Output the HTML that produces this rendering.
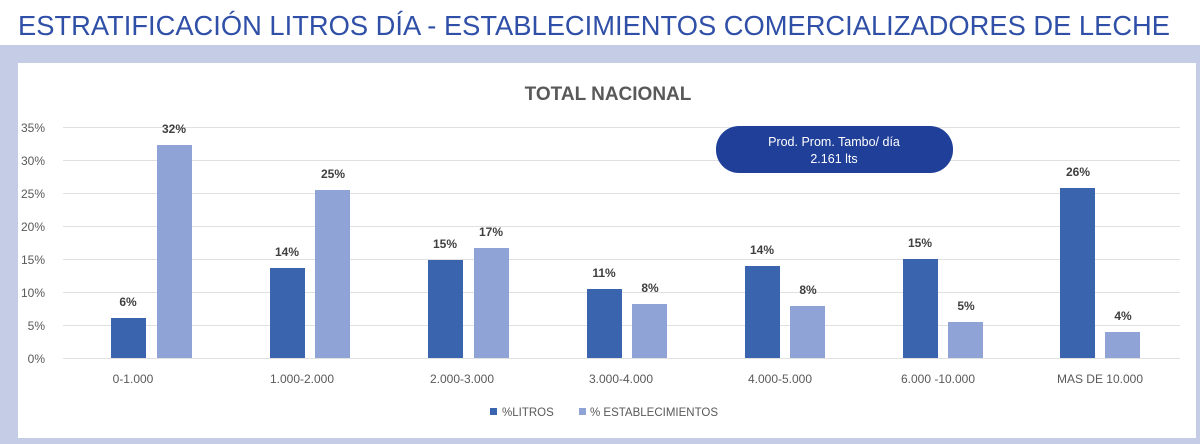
<!DOCTYPE html>
<html><head><meta charset="utf-8"><style>
body{margin:0;width:1200px;height:444px;overflow:hidden;background:#fff;}
svg{display:block}
</style></head><body>
<svg width="1200" height="444" xmlns="http://www.w3.org/2000/svg" font-family="Liberation Sans, sans-serif">
<rect x="0" y="0" width="1200" height="444" fill="#fff"/>
<text x="18" y="35" font-size="28" fill="#3050a8" textLength="1152" lengthAdjust="spacingAndGlyphs">ESTRATIFICACIÓN LITROS DÍA - ESTABLECIMIENTOS COMERCIALIZADORES DE LECHE</text>
<rect x="0" y="45" width="1200" height="399" fill="#c5cde6"/>
<rect x="18" y="63" width="1178" height="375" fill="#fff"/>
<text x="608" y="100" font-size="19" font-weight="bold" fill="#595959" text-anchor="middle">TOTAL NACIONAL</text>
<g stroke="#e0e0e0" stroke-width="1">
<line x1="63" x2="1180" y1="127.5" y2="127.5"/>
<line x1="63" x2="1180" y1="160.5" y2="160.5"/>
<line x1="63" x2="1180" y1="193.5" y2="193.5"/>
<line x1="63" x2="1180" y1="226.5" y2="226.5"/>
<line x1="63" x2="1180" y1="259.5" y2="259.5"/>
<line x1="63" x2="1180" y1="292.5" y2="292.5"/>
<line x1="63" x2="1180" y1="325.5" y2="325.5"/>
<line x1="63" x2="1180" y1="358.5" y2="358.5"/>
</g>
<g font-size="12" fill="#595959" text-anchor="end">
<text x="45" y="132">35%</text><text x="45" y="165">30%</text><text x="45" y="198">25%</text>
<text x="45" y="231">20%</text><text x="45" y="264">15%</text><text x="45" y="297">10%</text>
<text x="45" y="330">5%</text><text x="45" y="363">0%</text>
</g>
<g fill="#3a64ae">
<rect x="111" y="318" width="35" height="40"/>
<rect x="270" y="268" width="35" height="90"/>
<rect x="428" y="260" width="35" height="98"/>
<rect x="587" y="289" width="35" height="69"/>
<rect x="745" y="266" width="35" height="92"/>
<rect x="903" y="259" width="35" height="99"/>
<rect x="1060" y="188" width="35" height="170"/>
</g>
<g fill="#8fa3d6">
<rect x="157" y="145" width="35" height="213"/>
<rect x="315" y="190" width="35" height="168"/>
<rect x="474" y="248" width="35" height="110"/>
<rect x="632" y="304" width="35" height="54"/>
<rect x="790" y="306" width="35" height="52"/>
<rect x="948" y="322" width="35" height="36"/>
<rect x="1105" y="332" width="35" height="26"/>
</g>
<g font-size="12" font-weight="bold" fill="#404040" text-anchor="middle">
<text x="128" y="306">6%</text><text x="174" y="133">32%</text>
<text x="287" y="256">14%</text><text x="333" y="178">25%</text>
<text x="445" y="248">15%</text><text x="491" y="236">17%</text>
<text x="604" y="277">11%</text><text x="650" y="292">8%</text>
<text x="762" y="254">14%</text><text x="808" y="294">8%</text>
<text x="920" y="247">15%</text><text x="966" y="310">5%</text>
<text x="1078" y="176">26%</text><text x="1123" y="320">4%</text>
</g>
<g font-size="12" fill="#595959" text-anchor="middle">
<text x="133" y="383">0-1.000</text><text x="302" y="383">1.000-2.000</text>
<text x="462" y="383">2.000-3.000</text><text x="621" y="383">3.000-4.000</text>
<text x="780" y="383">4.000-5.000</text><text x="938" y="383">6.000 -10.000</text>
<text x="1100" y="383">MAS DE 10.000</text>
</g>
<rect x="490" y="408" width="7" height="7" fill="#3a64ae"/>
<text x="502" y="416" font-size="11.5" fill="#595959">%LITROS</text>
<rect x="579" y="408" width="7" height="7" fill="#8fa3d6"/>
<text x="590" y="416" font-size="11.5" fill="#595959">% ESTABLECIMIENTOS</text>
<rect x="716" y="126" width="237" height="47" rx="23" fill="#1f3f99"/>
<text x="834" y="146" font-size="12.5" fill="#fff" text-anchor="middle">Prod. Prom. Tambo/ día</text>
<text x="834" y="163" font-size="12.5" fill="#fff" text-anchor="middle">2.161 lts</text>
</svg>
</body></html>
